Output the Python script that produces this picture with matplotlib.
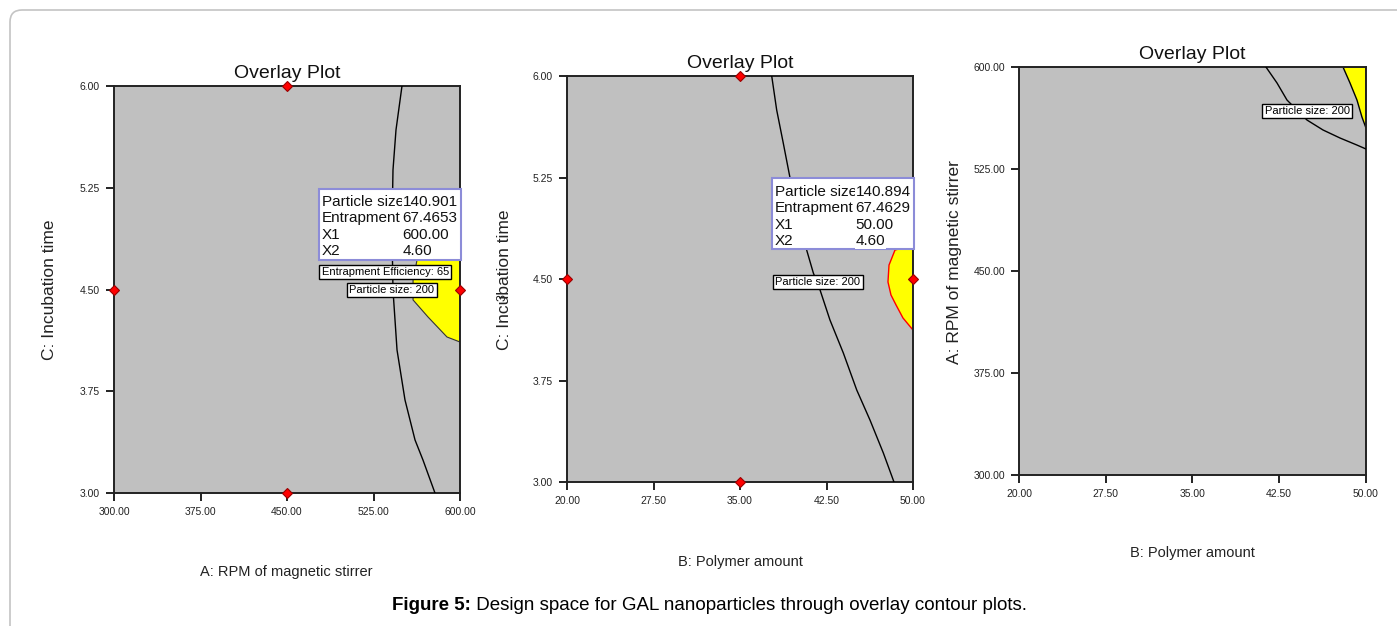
import numpy as np
import matplotlib
matplotlib.use("Agg")
import matplotlib.pyplot as plt
from matplotlib.patches import FancyBboxPatch, Rectangle
from matplotlib.transforms import IdentityTransform

plt.rcParams['font.family'] = ['Liberation Sans', 'DejaVu Sans']

# ── Data ──
# panel 1: A (RPM) vs C (incubation time)
p1_xticks = [300, 375, 450, 525, 600]
p1_yticks = [3.00, 3.75, 4.50, 5.25, 6.00]
p1_design_x = [450, 300, 600, 450]
p1_design_y = [6.00, 4.50, 4.50, 3.00]
p1_ps200_x = [549.7, 544.5, 541.9, 541.0, 541.9, 545.4, 552.3, 561.0, 567.9, 578.3]
p1_ps200_y = [6.00, 5.676, 5.381, 4.939, 4.496, 4.054, 3.686, 3.391, 3.243, 3.00]
p1_yellow_x = [600, 563.6, 559.3, 559.3, 572.3, 588.7, 600]
p1_yellow_y = [4.865, 4.754, 4.570, 4.423, 4.297, 4.150, 4.113]
p1_flag_names = ["Particle size", "Entrapment", "X1", "X2"]
p1_flag_vals = ["140.901", "67.4653", "600.00", "4.60"]

# panel 2: B (polymer) vs C (incubation time)
p2_xticks = [20, 27.5, 35, 42.5, 50]
p2_yticks = [3.00, 3.75, 4.50, 5.25, 6.00]
p2_design_x = [35, 20, 50, 35]
p2_design_y = [6.00, 4.50, 4.50, 3.00]
p2_ps200_x = [37.75, 38.18, 38.75, 39.34, 40.78, 41.36, 41.94, 42.80, 43.96, 45.12, 46.27, 47.43, 48.35]
p2_ps200_y = [6.00, 5.749, 5.505, 5.246, 4.714, 4.544, 4.419, 4.197, 3.953, 3.680, 3.458, 3.214, 3.00]
p2_yellow_x = [50, 48.44, 47.92, 47.83, 48.09, 48.53, 49.13, 50]
p2_yellow_y = [4.751, 4.714, 4.603, 4.478, 4.382, 4.308, 4.212, 4.123]
p2_flag_names = ["Particle size", "Entrapment", "X1", "X2"]
p2_flag_vals = ["140.894", "67.4629", "50.00", "4.60"]

# panel 3: B (polymer) vs A (RPM)
p3_xticks = [20, 27.5, 35, 42.5, 50]
p3_yticks = [300, 375, 450, 525, 600]
p3_ps200_x = [41.35, 42.31, 43.17, 44.90, 46.28, 47.75, 49.22, 50.0]
p3_ps200_y = [600, 588.2, 575.7, 561.0, 553.7, 547.8, 542.6, 539.7]
p3_yellow_x = [48.01, 48.62, 49.22, 49.65, 50, 50]
p3_yellow_y = [600, 588.2, 575.7, 563.2, 555.1, 600]

W, H = 1397, 626
fig = plt.figure(figsize=(W / 100, H / 100), dpi=100)


def rect(l, r, t, b):
    return [l / W, 1 - b / H, (r - l) / W, (b - t) / H]


def style_axes(ax, xticks, yticks, xlim, ylim):
    ax.set_facecolor('#c0c0c0')
    ax.set_xlim(*xlim)
    ax.set_ylim(*ylim)
    ax.set_xticks(xticks)
    ax.set_yticks(yticks)
    ax.set_xticklabels([f"{v:.2f}" for v in xticks])
    ax.set_yticklabels([f"{v:.2f}" for v in yticks])
    for s in ax.spines.values():
        s.set_color('#222222')
        s.set_linewidth(1.4)
    ax.tick_params(direction='out', length=6, width=1.4, color='#222222',
                   labelsize=7.5, labelcolor='#222222', pad=4)
    ax.set_title("Overlay Plot", fontsize=14, color='#111111', pad=6)


def flag_box(ax, names, vals):
    ax.add_patch(Rectangle((0.592, 0.573), 0.41, 0.175, transform=ax.transAxes,
                           facecolor='white', edgecolor='#8c8cd8', lw=1.5,
                           zorder=6, clip_on=False))
    rows = [0.715, 0.675, 0.634, 0.594]
    for yy, nm, vl in zip(rows, names, vals):
        ax.text(0.601, yy, nm, transform=ax.transAxes, fontsize=11,
                va='center', ha='left', zorder=7, color='#111111')
        ax.text(0.834, yy, vl, transform=ax.transAxes, fontsize=11,
                va='center', ha='left', zorder=8, color='#111111',
                bbox=dict(boxstyle='square,pad=0.05', fc='white', ec='none'))


def contour_label(ax, x, y, txt, ha='center'):
    ax.text(x, y, txt, fontsize=8, ha=ha, va='center', zorder=5, clip_on=True,
            bbox=dict(boxstyle='square,pad=0.2', fc='white', ec='black', lw=1))


diamond = dict(marker='D', ms=5, mfc='red', mec='#990000', mew=0.8,
               ls='none', clip_on=False, zorder=9)

# ── Panel 1 ──
ax1 = fig.add_axes(rect(114, 460, 86, 493))
style_axes(ax1, p1_xticks, p1_yticks, (300, 600), (3, 6))
ax1.fill(p1_yellow_x, p1_yellow_y, facecolor='yellow', edgecolor='#333333', lw=0.8, zorder=2)
ax1.plot(p1_ps200_x, p1_ps200_y, color='black', lw=1, zorder=3)
ax1.plot(p1_design_x, p1_design_y, **diamond)
flag_box(ax1, p1_flag_names, p1_flag_vals)
contour_label(ax1, 480, 4.629, "Entrapment Efficiency: 65", ha='left')
contour_label(ax1, 541.0, 4.496, "Particle size: 200")

# ── Panel 2 ──
ax2 = fig.add_axes(rect(567, 913, 76, 482))
style_axes(ax2, p2_xticks, p2_yticks, (20, 50), (3, 6))
ax2.fill(p2_yellow_x, p2_yellow_y, facecolor='yellow', edgecolor='red', lw=1, zorder=2)
ax2.plot(p2_ps200_x, p2_ps200_y, color='black', lw=1, zorder=3)
ax2.plot(p2_design_x, p2_design_y, **diamond)
flag_box(ax2, p2_flag_names, p2_flag_vals)
contour_label(ax2, 41.76, 4.478, "Particle size: 200")

# ── Panel 3 ──
ax3 = fig.add_axes(rect(1019, 1366, 67, 475))
style_axes(ax3, p3_xticks, p3_yticks, (20, 50), (300, 600))
ax3.fill(p3_yellow_x, p3_yellow_y, facecolor='yellow', edgecolor='black', lw=1, zorder=2)
ax3.plot(p3_ps200_x, p3_ps200_y, color='black', lw=1, zorder=3)
contour_label(ax3, 44.9, 567.6, "Particle size: 200")


# axis labels (placed in figure pixels)
def ftext(px, py, s, color='#222222', **kw):
    return fig.text(px / W, 1 - py / H, s, color=color, **kw)


ftext(286, 572, "A: RPM of magnetic stirrer", fontsize=10.5, ha='center', va='center')
ftext(740, 562, "B: Polymer amount", fontsize=10.5, ha='center', va='center')
ftext(1192, 553, "B: Polymer amount", fontsize=10.5, ha='center', va='center')
ftext(50, 290, "C: Incubation time", fontsize=12.5, rotation=90, ha='center', va='center')
ftext(505, 280, "C: Incubation time", fontsize=12.5, rotation=90, ha='center', va='center')
ftext(955, 262, "A: RPM of magnetic stirrer", fontsize=12.5, rotation=90, ha='center', va='center')
# stray design-point count glyph sitting on the middle y label in the original
ftext(503, 298, "3", fontsize=9, rotation=90, ha='center', va='center')

# rounded page frame
fig.add_artist(FancyBboxPatch((10, -30), 1420, 646, boxstyle='round,pad=0,rounding_size=12',
                              transform=IdentityTransform(), fc='none',
                              ec='#c4c4c4', lw=1.2))

# caption
cap1 = ftext(392, 605, "Figure 5:", fontsize=13.5, fontweight='bold', ha='left',
             va='center', color='black')
ax1.annotate(" Design space for GAL nanoparticles through overlay contour plots.",
             xy=(1, 0), xycoords=cap1, va='bottom', ha='left', fontsize=13.5,
             color='black', annotation_clip=False)

fig.savefig("out.png", dpi=100)
